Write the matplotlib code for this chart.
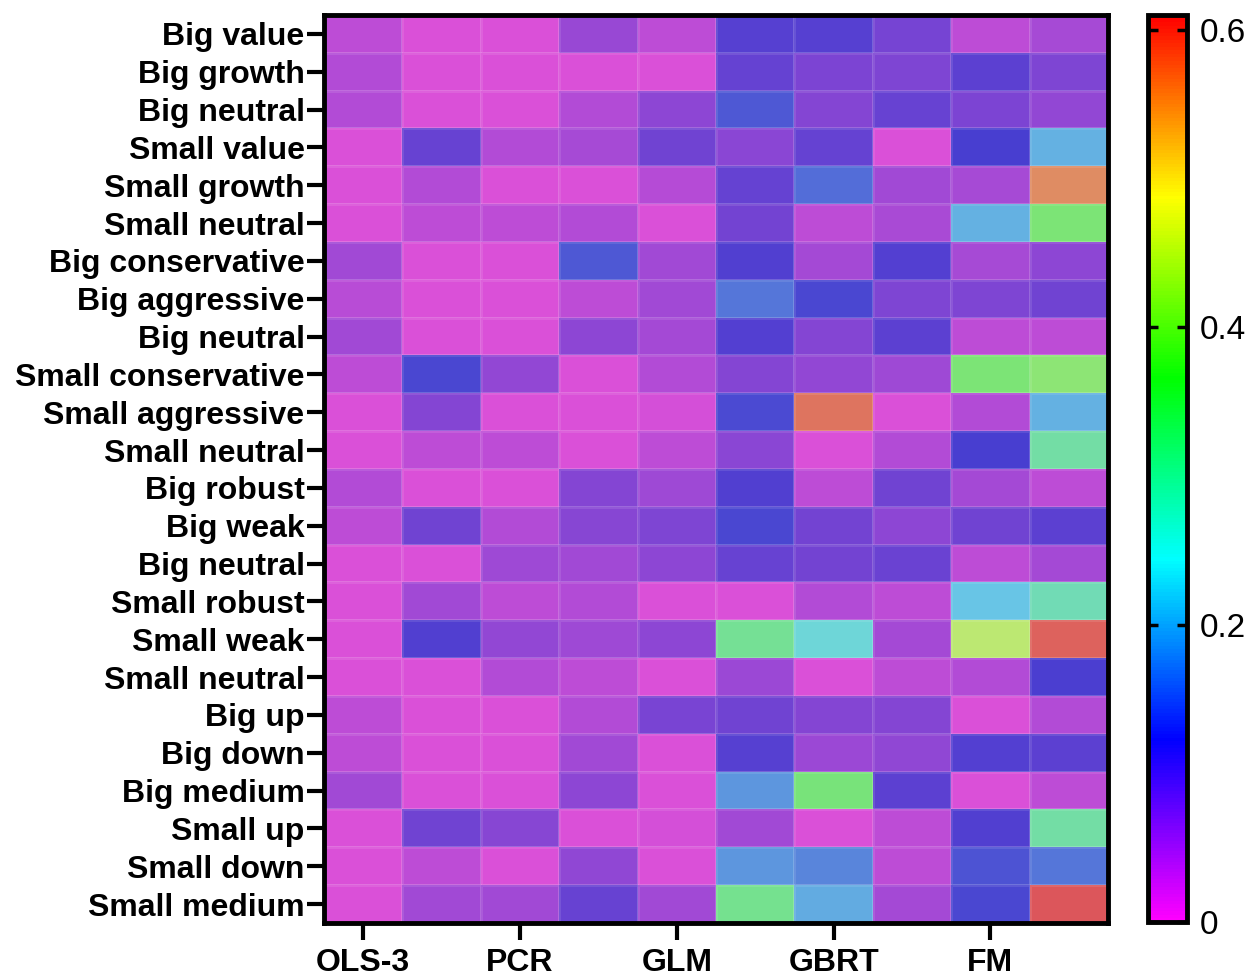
import numpy as np
import matplotlib
matplotlib.use("Agg")
import matplotlib.pyplot as plt
from matplotlib.colors import LinearSegmentedColormap, Normalize
from matplotlib.cm import ScalarMappable

plt.rcParams['font.family'] = ['Liberation Sans', 'DejaVu Sans']

portfolios = [
    "Big value", "Big growth", "Big neutral", "Small value", "Small growth",
    "Small neutral", "Big conservative", "Big aggressive", "Big neutral",
    "Small conservative", "Small aggressive", "Small neutral", "Big robust",
    "Big weak", "Big neutral", "Small robust", "Small weak", "Small neutral",
    "Big up", "Big down", "Big medium", "Small up", "Small down", "Small medium",
]

model_labels = ["OLS-3", "PCR", "GLM", "GBRT", "FM"]

# one row per portfolio, ten model columns
importance = [
    [0.025, 0.000, 0.000, 0.055, 0.025, 0.110, 0.110, 0.085, 0.025, 0.045],
    [0.035, 0.000, 0.000, 0.000, 0.000, 0.100, 0.080, 0.078, 0.105, 0.078],
    [0.035, 0.000, 0.000, 0.035, 0.065, 0.144, 0.072, 0.097, 0.080, 0.060],
    [0.000, 0.097, 0.035, 0.045, 0.090, 0.068, 0.100, 0.000, 0.122, 0.215],
    [0.000, 0.035, 0.000, 0.000, 0.033, 0.100, 0.161, 0.050, 0.043, 0.560],
    [0.000, 0.025, 0.025, 0.035, 0.000, 0.087, 0.025, 0.042, 0.215, 0.370],
    [0.048, 0.000, 0.000, 0.144, 0.048, 0.115, 0.047, 0.113, 0.045, 0.065],
    [0.030, 0.000, 0.000, 0.025, 0.048, 0.168, 0.130, 0.078, 0.078, 0.090],
    [0.048, 0.000, 0.000, 0.065, 0.047, 0.113, 0.072, 0.105, 0.025, 0.025],
    [0.025, 0.130, 0.060, 0.000, 0.035, 0.072, 0.060, 0.052, 0.370, 0.390],
    [0.000, 0.072, 0.000, 0.000, 0.005, 0.133, 0.580, 0.000, 0.035, 0.215],
    [0.000, 0.025, 0.025, 0.000, 0.025, 0.068, 0.000, 0.035, 0.122, 0.315],
    [0.035, 0.000, 0.000, 0.072, 0.052, 0.115, 0.025, 0.090, 0.047, 0.025],
    [0.025, 0.090, 0.035, 0.070, 0.078, 0.130, 0.087, 0.065, 0.090, 0.105],
    [0.000, 0.000, 0.052, 0.048, 0.065, 0.097, 0.087, 0.095, 0.025, 0.047],
    [0.000, 0.048, 0.025, 0.035, 0.000, 0.000, 0.035, 0.025, 0.232, 0.299],
    [0.000, 0.115, 0.060, 0.052, 0.065, 0.332, 0.262, 0.047, 0.442, 0.595],
    [0.000, 0.000, 0.035, 0.025, 0.000, 0.053, 0.000, 0.025, 0.035, 0.120],
    [0.025, 0.000, 0.000, 0.035, 0.082, 0.090, 0.072, 0.072, 0.000, 0.035],
    [0.025, 0.000, 0.000, 0.048, 0.000, 0.110, 0.053, 0.062, 0.113, 0.105],
    [0.048, 0.000, 0.000, 0.065, 0.000, 0.195, 0.360, 0.105, 0.000, 0.025],
    [0.000, 0.090, 0.070, 0.000, 0.005, 0.048, 0.000, 0.025, 0.115, 0.315],
    [0.000, 0.025, 0.000, 0.062, 0.000, 0.195, 0.180, 0.025, 0.140, 0.169],
    [0.000, 0.048, 0.048, 0.097, 0.048, 0.340, 0.212, 0.047, 0.130, 0.605],
]

vmin, vmax = 0.0, 0.61

# rainbow scale for the colour bar: magenta -> blue -> cyan -> green -> yellow -> red
bar_cmap = LinearSegmentedColormap.from_list(
    "rainbow_bar",
    [(1, 0, 1), (0, 0, 1), (0, 1, 1), (0, 1, 0), (1, 1, 0), (1, 0, 0)],
)


def rgb(r, g, b):
    return (r / 255, g / 255, b / 255)


# softened version of the same scale used for the cells
cell_cmap = LinearSegmentedColormap.from_list(
    "rainbow_cells",
    [rgb(218, 80, 216), rgb(72, 62, 208), rgb(108, 212, 232),
     rgb(120, 228, 118), rgb(228, 234, 112), rgb(220, 80, 90)],
)
norm = Normalize(vmin=vmin, vmax=vmax)

data = np.array(importance)
n_rows, n_cols = data.shape

fig = plt.figure(figsize=(12.54, 9.77), dpi=100)
ax = fig.add_axes([0.2584, 0.0553, 0.6252, 0.9294])

ax.pcolormesh(np.arange(n_cols + 1), np.arange(n_rows + 1), data,
              cmap=cell_cmap, norm=norm,
              edgecolors=(1, 1, 1, 0.10), linewidth=0.8)
ax.set_xlim(0, n_cols)
ax.set_ylim(n_rows, 0)

ax.set_yticks(np.arange(n_rows) + 0.5)
ax.set_yticklabels(portfolios, fontsize=23, fontweight='bold')
ax.set_xticks(np.arange(0, n_cols, 2) + 0.5)
ax.set_xticklabels(model_labels, fontsize=23, fontweight='bold')
ax.tick_params(axis='both', length=12, width=3, color='black')
ax.tick_params(axis='y', pad=2)
ax.tick_params(axis='x', pad=6)
for sp in ax.spines.values():
    sp.set_linewidth(3.5)
    sp.set_color('black')

cax = fig.add_axes([0.9155, 0.0563, 0.0311, 0.9284])
sm = ScalarMappable(norm=norm, cmap=bar_cmap)
cb = fig.colorbar(sm, cax=cax)
cb.set_ticks([0, 0.2, 0.4, 0.6])
cb.set_ticklabels(["0", "0.2", "0.4", "0.6"])
cb.outline.set_linewidth(3.5)
cax.tick_params(axis='y', which='both', direction='in', left=True, right=True,
                length=7, width=2.5, labelsize=24, pad=9)

fig.savefig("out.png", dpi=100)
